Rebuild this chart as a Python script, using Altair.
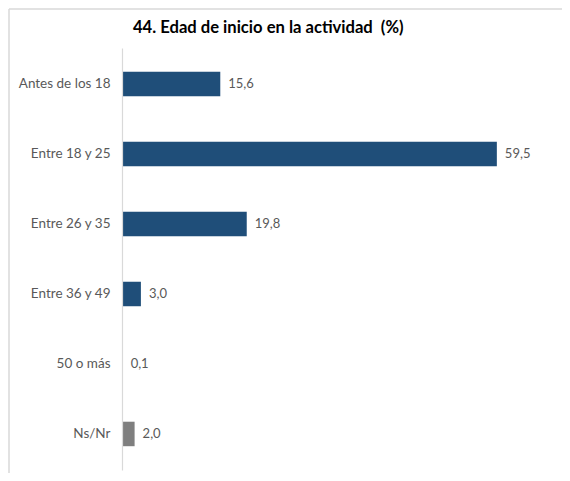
import altair as alt
import pandas as pd

categories = ["Antes de los 18", "Entre 18 y 25", "Entre 26 y 35", "Entre 36 y 49", "50 o más", "Ns/Nr"]
values = [15.6, 59.5, 19.8, 3.0, 0.1, 2.0]
value_labels = ["15,6", "59,5", "19,8", "3,0", "0,1", "2,0"]
groups = ["resp", "resp", "resp", "resp", "resp", "ns"]
title_text = "44. Edad de inicio en la actividad \u00a0(%)"

FONT = "Lato"

df = pd.DataFrame({"cat": categories, "val": values, "lab": value_labels, "grp": groups})

y = alt.Y(
    "cat:N",
    sort=categories,
    title=None,
    scale=alt.Scale(paddingInner=0.65, paddingOuter=0.34),
    axis=alt.Axis(
        domainColor="#D9D9D9",
        domainWidth=1.2,
        ticks=False,
        grid=False,
        labelColor="#595959",
        labelFont=FONT,
        labelFontSize=13.5,
        labelPadding=12,
        zindex=1,
    ),
)
x = alt.X("val:Q", scale=alt.Scale(domain=[0, 60], nice=False), axis=None)

bars = alt.Chart(df).mark_bar().encode(
    x=x,
    y=y,
    color=alt.Color(
        "grp:N",
        scale=alt.Scale(domain=["resp", "ns"], range=["#1F4E79", "#7F7F7F"]),
        legend=None,
    ),
)

texts = alt.Chart(df).mark_text(
    align="left", baseline="middle", dx=8, font=FONT, fontSize=13, color="#595959"
).encode(x=x, y=y, text="lab:N")

frame = pd.DataFrame({"t": [title_text]})
top_rule = alt.Chart(frame).mark_rule(color="#D9D9D9", strokeWidth=1.5).encode(
    x=alt.value(-113), x2=alt.value(440), y=alt.value(-39)
)
left_rule = alt.Chart(frame).mark_rule(color="#D9D9D9", strokeWidth=1.5).encode(
    x=alt.value(-113), y=alt.value(-39), y2=alt.value(425)
)
title = alt.Chart(frame).mark_text(
    align="left", baseline="alphabetic", font=FONT, fontSize=16.6, fontWeight="bold", color="#000000"
).encode(x=alt.value(11), y=alt.value(-15), text="t:N")

chart = (
    alt.layer(top_rule, left_rule, title, bars, texts)
    .properties(
        width=378,
        height=422,
        autosize=alt.AutoSizeParams(type="none"),
        padding={"left": 114, "top": 40, "right": 62, "bottom": 3},
    )
    .configure_view(stroke=None)
)

chart.save("out.html", embed_options={"renderer": "svg", "actions": False})
